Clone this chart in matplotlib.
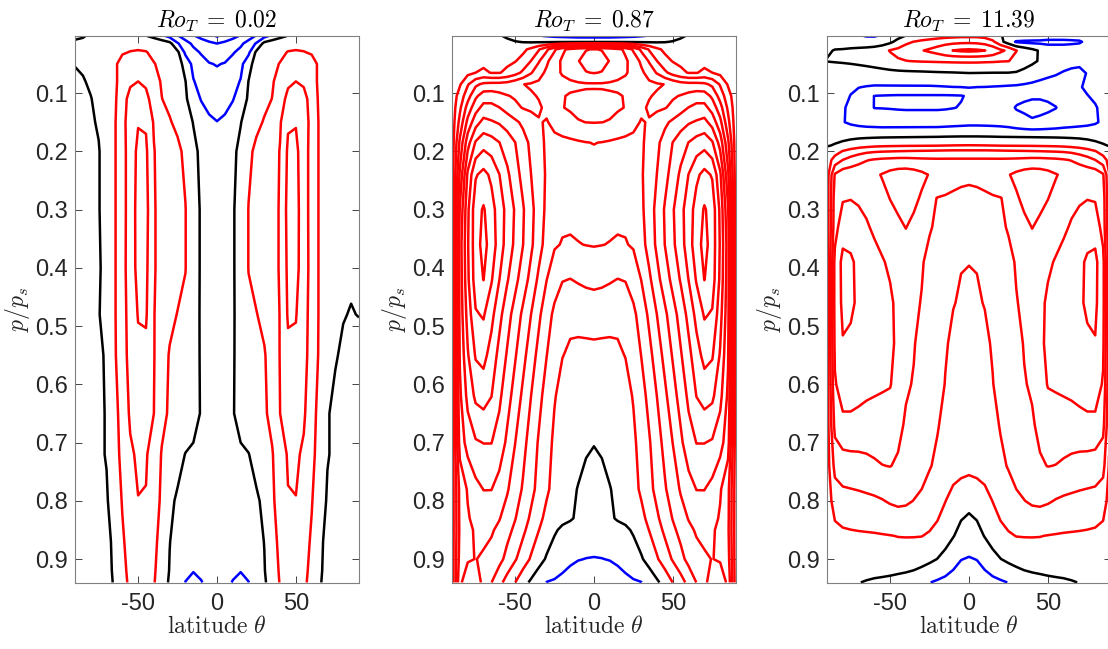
import numpy as np
import matplotlib.pyplot as plt

plt.rcParams['font.family'] = ['Liberation Sans', 'DejaVu Sans']
plt.rcParams['mathtext.fontset'] = 'cm'
plt.rcParams['axes.unicode_minus'] = False

# latitude grid for one hemisphere (|lat|, equator to pole); fields are mirrored
lat_half = [0, 5, 10, 15, 20, 25, 30, 35, 40, 45, 50, 55, 60, 65, 70, 75, 80, 85, 90]

titles = [r'$Ro_T\;=\;0.02$', r'$Ro_T\;=\;0.87$', r'$Ro_T\;=\;11.39$']
ytick_vals = [0.1, 0.2, 0.3, 0.4, 0.5, 0.6, 0.7, 0.8, 0.9]
xtick_vals = [-50, 0, 50]

# ---- panel 1, Ro_T = 0.02 ----
p1_p = [0.002, 0.015, 0.03, 0.05, 0.08, 0.11, 0.15, 0.2, 0.3, 0.4, 0.48, 0.55,
        0.65, 0.72, 0.8, 0.87, 0.92, 0.94]
p1_south = [
    [-4.1, -3.6, -3.3, -2.9, -2.5, -1.9, -1.3, -0.75, -0.3, 0.05, 0.3, 0.4, 0.4, 0.35, 0.25, 0.15, 0.1, -0.05, -0.1],
    [-3.0, -2.8, -2.5, -2.2, -1.6, -0.9, 0.3, 0.6, 0.8, 0.85, 0.85, 0.85, 0.8, 0.7, 0.5, 0.35, 0.25, 0.15, 0.1],
    [-2.6, -2.4, -2.1, -1.7, -1.2, 0.2, 0.6, 0.8, 0.9, 1.02, 1.05, 1.02, 0.95, 0.8, 0.6, 0.4, 0.3, 0.2, 0.12],
    [-2.05, -1.95, -1.6, -1.25, -0.4, 0.5, 0.85, 0.9, 1.02, 1.5, 1.6, 1.5, 1.2, 0.9, 0.6, 0.35, 0.2, 0.08, 0.02],
    [-1.7, -1.6, -1.3, -0.95, 0.02, 0.6, 0.85, 0.95, 1.2, 1.8, 2.0, 1.8, 1.3, 0.85, 0.5, 0.25, 0.08, -0.04, -0.1],
    [-1.45, -1.3, -1.05, -0.6, 0.15, 0.7, 0.85, 1.01, 1.5, 2.3, 2.6, 2.4, 1.5, 0.85, 0.4, 0.15, -0.02, -0.15, -0.25],
    [-0.98, -0.85, -0.55, -0.05, 0.6, 0.85, 1.05, 1.3, 1.9, 2.9, 2.95, 2.6, 1.6, 0.9, 0.45, 0.08, -0.1, -0.2, -0.3],
    [-0.75, -0.55, -0.25, 0.3, 0.85, 1.15, 1.35, 1.55, 2.05, 3.15, 3.2, 2.5, 1.6, 0.9, 0.4, -0.05, -0.2, -0.3, -0.4],
    [-0.6, -0.4, -0.1, 0.4, 1.02, 1.2, 1.4, 1.6, 2.1, 3.3, 3.3, 2.5, 1.6, 0.9, 0.4, -0.05, -0.2, -0.3, -0.4],
    [-0.6, -0.4, -0.1, 0.4, 1.02, 1.2, 1.4, 1.6, 2.1, 3.2, 3.25, 2.55, 1.6, 0.9, 0.3, -0.1, -0.2, -0.3, -0.4],
    [-0.55, -0.4, -0.1, 0.35, 0.85, 0.98, 1.15, 1.4, 2.05, 3.1, 3.05, 2.4, 1.6, 0.9, 0.35, -0.05, -0.2, -0.3, -0.4],
    [-0.5, -0.35, -0.08, 0.3, 0.6, 0.8, 0.95, 1.3, 2.05, 2.8, 2.8, 2.35, 1.55, 0.88, 0.1, -0.15, -0.25, -0.35, -0.45],
    [-0.45, -0.3, -0.05, 0.25, 0.5, 0.7, 0.9, 1.2, 2.0, 2.45, 2.45, 2.15, 1.3, 0.75, 0.05, -0.15, -0.3, -0.4, -0.5],
    [-0.4, -0.3, -0.2, -0.1, -0.02, 0.25, 0.6, 0.95, 1.5, 2.1, 2.15, 1.85, 1.2, 0.7, 0.05, -0.15, -0.3, -0.4, -0.5],
    [-0.5, -0.45, -0.35, -0.25, -0.2, -0.1, 0.15, 0.85, 1.4, 1.95, 1.98, 1.7, 1.05, 0.5, -0.1, -0.25, -0.35, -0.45, -0.55],
    [-0.6, -0.65, -0.7, -0.72, -0.6, -0.3, 0.02, 0.7, 1.2, 1.6, 1.6, 1.3, 0.9, 0.2, -0.25, -0.3, -0.4, -0.5, -0.6],
    [-0.7, -0.8, -0.92, -0.98, -0.8, -0.4, -0.05, 0.6, 1.1, 1.45, 1.45, 1.2, 0.8, 0.15, -0.3, -0.35, -0.45, -0.55, -0.65],
    [-0.75, -0.88, -1.02, -1.15, -1.02, -0.5, -0.15, 0.55, 1.05, 1.4, 1.4, 1.15, 0.75, 0.1, -0.35, -0.4, -0.5, -0.6, -0.7],
]
# northern edge (lat 75..90) differs from the south in the upper rows
p1_north_edge = [
    [0.2, 0.15, 0.12, 0.1],
    [0.35, 0.25, 0.15, 0.1],
    [0.4, 0.3, 0.2, 0.12],
    [0.35, 0.2, 0.1, 0.08],
    [0.25, 0.15, 0.12, 0.1],
    [0.15, 0.12, 0.1, 0.08],
    [0.15, 0.12, 0.1, 0.08],
    [0.15, 0.12, 0.1, 0.08],
    [0.15, 0.12, 0.1, 0.08],
    [0.15, 0.12, 0.1, 0.08],
    [0.1, 0.03, -0.03, 0.02],
    [0.05, -0.1, -0.2, -0.25],
]
p1_contours = [-4, -3, -2, -1, 0, 1, 2, 3]

# ---- panel 2, Ro_T = 0.87 ----
p2_p = [0.002, 0.012, 0.025, 0.045, 0.065, 0.085, 0.105, 0.125, 0.15, 0.185, 0.24,
        0.3, 0.36, 0.42, 0.48, 0.55, 0.62, 0.7, 0.78, 0.83, 0.85, 0.9, 0.94]
p2_half = [
    [-1.3, -1.3, -1.3, -1.25, -1.2, -1.15, -1.05, -0.95, -0.8, -0.6, -0.4, -0.15, 0.1, 0.3, 0.4, 0.45, 0.45, 0.45, 0.4],
    [-0.15, -0.15, -0.15, -0.15, -0.15, -0.15, -0.15, -0.12, -0.1, -0.05, 0.05, 0.2, 0.4, 0.5, 0.55, 0.55, 0.55, 0.5, 0.4],
    [6.05, 5.95, 5.7, 5.3, 4.8, 3.85, 2.8, 1.9, 1.2, 0.8, 0.6, 0.55, 0.55, 0.55, 0.6, 0.55, 0.55, 0.5, 0.4],
    [6.5, 6.4, 5.95, 5.5, 5.15, 4.6, 3.8, 2.9, 2.0, 1.3, 0.95, 0.8, 0.75, 0.7, 0.7, 0.6, 0.55, 0.5, 0.4],
    [6.05, 5.95, 5.7, 5.35, 5.1, 4.7, 4.2, 3.6, 2.9, 2.2, 1.6, 1.2, 0.95, 0.95, 1.2, 1.0, 0.75, 0.6, 0.4],
    [4.9, 4.9, 4.85, 4.8, 4.7, 4.5, 4.35, 4.2, 4.1, 3.98, 3.7, 3.4, 3.3, 3.3, 3.2, 2.8, 1.9, 0.9, 0.4],
    [5.15, 5.14, 5.12, 5.08, 4.95, 4.6, 4.3, 4.05, 3.9, 3.85, 3.9, 4.05, 4.3, 4.5, 4.5, 3.8, 2.6, 1.4, 0.4],
    [5.3, 5.28, 5.2, 5.1, 4.97, 4.6, 4.15, 3.9, 3.85, 3.95, 4.2, 4.6, 5.02, 5.3, 5.3, 4.6, 3.4, 1.8, 0.4],
    [5.03, 5.01, 4.95, 4.75, 4.5, 4.2, 3.95, 4.05, 4.4, 4.8, 5.2, 5.6, 5.9, 6.1, 6.3, 5.6, 4.3, 2.3, 0.4],
    [4.02, 3.98, 3.9, 3.82, 3.78, 3.8, 3.9, 4.2, 4.8, 5.4, 6.02, 6.5, 7.02, 7.4, 7.6, 7.1, 5.6, 3.2, 0.4],
    [3.7, 3.65, 3.55, 3.45, 3.45, 3.6, 3.9, 4.4, 5.02, 5.7, 6.4, 7.2, 8.02, 8.8, 9.3, 8.9, 7.2, 4.2, 0.4],
    [3.35, 3.33, 3.28, 3.2, 3.2, 3.35, 3.8, 4.5, 5.3, 6.1, 6.9, 7.7, 8.5, 9.4, 10.1, 9.6, 7.8, 5.1, 0.4],
    [3.05, 3.02, 2.97, 2.92, 2.95, 3.1, 3.6, 4.4, 5.2, 6.02, 6.8, 7.6, 8.5, 9.6, 10.3, 9.6, 7.9, 5.5, 0.4],
    [2.25, 2.2, 2.1, 1.98, 2.05, 2.4, 3.02, 3.8, 4.7, 5.5, 6.3, 7.1, 8.02, 9.1, 10.02, 9.5, 7.8, 5.4, 0.4],
    [1.4, 1.35, 1.25, 1.15, 1.3, 1.8, 2.4, 3.2, 4.02, 4.8, 5.6, 6.4, 7.3, 8.3, 9.1, 8.9, 7.4, 5.3, 0.4],
    [0.75, 0.75, 0.8, 0.9, 1.02, 1.4, 2.02, 2.7, 3.5, 4.3, 5.1, 5.9, 6.7, 7.6, 8.3, 8.1, 6.9, 5.1, 0.4],
    [0.45, 0.45, 0.5, 0.6, 0.75, 1.05, 1.6, 2.3, 3.02, 3.8, 4.6, 5.4, 6.2, 7.02, 7.4, 7.2, 6.3, 4.8, 0.4],
    [0.03, 0.1, 0.25, 0.45, 0.6, 0.85, 1.3, 1.9, 2.6, 3.3, 4.02, 4.8, 5.6, 6.02, 6.02, 5.9, 5.4, 4.4, 0.4],
    [-0.35, -0.2, -0.03, 0.15, 0.35, 0.7, 1.15, 1.7, 2.3, 2.9, 3.5, 4.1, 4.6, 5.02, 5.02, 4.7, 4.1, 3.3, 0.4],
    [-0.6, -0.5, -0.15, 0.1, 0.2, 0.35, 0.75, 1.25, 1.85, 2.45, 3.05, 3.6, 4.05, 4.4, 4.5, 4.3, 3.9, 3.25, 0.4],
    [-0.75, -0.7, -0.55, -0.35, -0.15, 0.1, 0.5, 1.02, 1.6, 2.2, 2.8, 3.3, 3.8, 4.1, 4.2, 4.1, 3.8, 3.2, 0.4],
    [-1.02, -1.01, -0.98, -0.9, -0.7, -0.4, -0.1, 0.35, 0.9, 1.5, 2.1, 2.7, 3.3, 3.7, 3.9, 4.02, 3.9, 3.4, 0.4],
    [-1.35, -1.35, -1.3, -1.25, -1.2, -1.1, -1.02, -0.6, -0.15, 0.35, 1.02, 1.6, 2.3, 3.02, 3.8, 4.4, 4.6, 3.8, 0.4],
]
p2_contours = [-1, 0, 1, 2, 3, 4, 5, 6, 7, 8, 9, 10]

# ---- panel 3, Ro_T = 11.39 ----
p3_p_top = [0.002, 0.012, 0.027, 0.045, 0.066, 0.09, 0.105, 0.125, 0.15]
p3_top_south = [
    [0.8, 0.8, 0.75, 0.7, 0.6, 0.5, 0.4, 0.2, 0.05, -0.3, -0.6, -0.9, -1.05, -1.05, -0.9, -0.6, -0.5, -0.4, -0.35],
    [1.8, 1.78, 1.72, 1.62, 1.5, 1.35, 1.2, 1.02, 0.8, 0.3, -0.2, -0.5, -0.6, -0.55, -0.45, -0.35, -0.25, -0.15, -0.1],
    [3.2, 3.15, 3.02, 2.75, 2.4, 2.15, 1.95, 1.7, 1.45, 1.25, 1.05, 0.7, 0.45, 0.3, 0.2, 0.12, 0.05, 0.02, -0.05],
    [1.15, 1.15, 1.14, 1.12, 1.1, 1.08, 1.06, 1.03, 0.98, 0.9, 0.7, 0.5, 0.35, 0.25, 0.18, 0.12, 0.08, 0.05, 0.02],
    [-0.02, -0.05, -0.08, -0.1, -0.12, -0.15, -0.18, -0.2, -0.22, -0.25, -0.27, -0.3, -0.32, -0.35, -0.38, -0.4, -0.42, -0.43, -0.45],
    [-0.95, -1.01, -1.02, -1.05, -1.08, -1.1, -1.1, -1.1, -1.1, -1.1, -1.1, -1.1, -1.1, -1.05, -0.98, -0.9, -0.75, -0.6, -0.5],
    [-1.9, -2.05, -2.08, -2.1, -2.1, -2.1, -2.1, -2.1, -2.1, -2.1, -2.08, -2.05, -2.02, -1.6, -1.25, -1.02, -0.8, -0.65, -0.55],
    [-1.85, -1.95, -2.03, -2.08, -2.1, -2.1, -2.1, -2.1, -2.1, -2.08, -2.05, -2.03, -2.02, -1.7, -1.3, -1.1, -0.95, -0.75, -0.6],
    [-1.3, -1.35, -1.4, -1.45, -1.5, -1.5, -1.5, -1.5, -1.5, -1.5, -1.5, -1.5, -1.45, -1.4, -1.3, -1.15, -0.95, -0.7, -0.5],
]
p3_top_north = [
    [0.8, 0.8, 0.7, 0.4, 0.05, -0.2, -0.2, -0.1, -0.1, -0.2, -0.5, -0.6, -0.6, -0.6, -0.6, -0.5, -0.4, -0.35, -0.3],
    [1.8, 1.75, 1.6, 1.2, 0.3, -0.5, -1.1, -1.2, -1.25, -1.25, -1.25, -1.2, -1.2, -1.15, -1.1, -0.8, -0.5, -0.3, -0.2],
    [3.2, 3.15, 3.02, 2.7, 2.2, 1.8, 1.02, 0.6, 0.25, -0.1, -0.5, -0.6, -0.6, -0.6, -0.55, -0.5, -0.45, -0.4, -0.35],
    [1.15, 1.15, 1.12, 1.1, 1.05, 1.02, 0.8, 0.5, 0.2, -0.1, -0.4, -0.6, -0.75, -0.85, -0.9, -0.9, -0.85, -0.8, -0.75],
    [-0.02, -0.03, -0.04, -0.05, -0.05, -0.05, -0.1, -0.3, -0.5, -0.7, -0.85, -0.95, -1.05, -1.1, -1.1, -0.98, -0.9, -0.8, -0.7],
    [-0.95, -1.01, -1.02, -1.05, -1.08, -1.12, -1.15, -1.2, -1.25, -1.3, -1.32, -1.3, -1.25, -1.15, -1.05, -0.9, -0.75, -0.6, -0.5],
    [-1.9, -1.6, -1.5, -1.5, -1.5, -1.6, -1.8, -1.9, -1.95, -1.95, -1.9, -1.8, -1.6, -1.45, -1.3, -1.02, -0.9, -0.75, -0.6],
    [-1.85, -1.6, -1.5, -1.5, -1.55, -1.8, -2.05, -2.1, -2.12, -2.12, -2.1, -2.02, -1.8, -1.6, -1.4, -1.2, -1.05, -0.85, -0.6],
    [-1.3, -1.3, -1.32, -1.35, -1.4, -1.5, -1.7, -1.85, -1.95, -1.9, -1.8, -1.7, -1.55, -1.45, -1.35, -1.25, -1.1, -0.85, -0.5],
]
p3_p_low = [0.175, 0.19, 0.2, 0.215, 0.24, 0.28, 0.33, 0.39, 0.46, 0.53, 0.6, 0.67,
            0.74, 0.8, 0.86, 0.9, 0.94]
p3_low = [
    [0.03, 0.03, 0.02, 0.01, -0.01, -0.02, -0.03, -0.04, -0.05, -0.06, -0.07, -0.08, -0.1, -0.12, -0.15, -0.2, -0.3, -0.4, -0.5],
    [1.03, 1.02, 1.01, 0.99, 0.96, 0.95, 0.94, 0.93, 0.92, 0.9, 0.88, 0.85, 0.8, 0.7, 0.6, 0.45, 0.3, 0.1, -0.1],
    [2.2, 2.2, 2.2, 2.18, 2.15, 2.12, 2.1, 2.08, 2.05, 2.02, 1.98, 1.95, 1.9, 1.8, 1.6, 1.35, 1.05, 0.6, 0.5],
    [3.15, 3.15, 3.15, 3.15, 3.15, 3.17, 3.2, 3.25, 3.3, 3.3, 3.25, 3.2, 3.1, 2.95, 2.7, 2.4, 2.02, 1.4, 0.5],
    [3.2, 3.25, 3.35, 3.55, 3.8, 3.95, 4.2, 4.4, 4.5, 4.45, 4.3, 4.05, 3.85, 3.75, 3.7, 3.65, 3.6, 3.1, 0.5],
    [2.75, 2.78, 2.85, 2.92, 2.98, 3.15, 3.9, 4.2, 4.3, 4.2, 4.02, 3.8, 3.7, 3.75, 3.85, 3.95, 3.9, 3.5, 0.5],
    [2.5, 2.52, 2.58, 2.65, 2.8, 3.1, 3.5, 3.8, 4.02, 3.85, 3.7, 3.75, 3.85, 4.1, 4.4, 4.7, 4.6, 3.6, 0.5],
    [2.01, 2.02, 2.08, 2.2, 2.4, 2.7, 3.1, 3.4, 3.6, 3.75, 3.9, 4.05, 4.3, 4.6, 4.85, 5.1, 5.25, 4.3, 0.5],
    [1.9, 1.95, 2.02, 2.2, 2.45, 2.7, 2.95, 3.2, 3.55, 3.85, 4.1, 4.3, 4.5, 4.7, 4.9, 5.1, 5.2, 4.3, 0.5],
    [1.75, 1.8, 1.9, 2.05, 2.25, 2.5, 2.75, 3.05, 3.5, 3.9, 4.1, 4.3, 4.5, 4.65, 4.8, 4.9, 4.95, 4.2, 0.5],
    [1.6, 1.65, 1.78, 1.98, 2.2, 2.45, 2.7, 2.95, 3.1, 3.6, 4.05, 4.1, 4.15, 4.2, 4.3, 4.4, 4.5, 3.9, 0.5],
    [1.45, 1.5, 1.6, 1.8, 2.05, 2.3, 2.5, 2.7, 2.9, 3.2, 3.5, 3.6, 3.65, 3.7, 3.75, 3.8, 3.75, 3.3, 0.5],
    [1.25, 1.3, 1.42, 1.6, 1.85, 2.05, 2.3, 2.55, 2.75, 2.9, 3.02, 2.98, 2.85, 2.7, 2.6, 2.55, 2.5, 2.3, 0.5],
    [0.3, 0.45, 0.65, 1.02, 1.4, 1.65, 1.85, 1.98, 2.15, 2.2, 2.1, 1.95, 1.85, 1.8, 1.75, 1.7, 1.65, 1.4, 0.5],
    [-0.55, -0.35, 0.05, 0.4, 0.7, 0.9, 1.02, 1.03, 1.03, 1.02, 0.98, 0.95, 0.92, 0.9, 0.88, 0.85, 0.8, 0.7, 0.4],
    [-1.05, -0.98, -0.7, -0.3, -0.02, 0.2, 0.4, 0.55, 0.6, 0.62, 0.62, 0.6, 0.55, 0.5, 0.45, 0.4, 0.35, 0.3, 0.3],
    [-1.5, -1.45, -1.35, -1.25, -1.12, -0.98, -0.8, -0.6, -0.45, -0.35, -0.25, -0.18, -0.12, -0.05, 0.02, 0.1, 0.2, 0.3, 0.3],
]
p3_contours = [-2, -1, 0, 1, 2, 3, 4, 5]


lat_full = np.concatenate([-np.array(lat_half[::-1]), np.array(lat_half[1:])])


def mirror(south, north):
    s = np.array(south, dtype=float)
    n = np.array(north, dtype=float)
    return np.hstack([s[:, ::-1], n[:, 1:]])


# assemble the fields
psi1_s = np.array(p1_south, dtype=float)
psi1_n = psi1_s.copy()
psi1_n[:len(p1_north_edge), 15:] = np.array(p1_north_edge)
psi1 = mirror(psi1_s, psi1_n)

psi2 = mirror(p2_half, p2_half)

p3_p = p3_p_top + p3_p_low
psi3 = mirror(p3_top_south + p3_low, p3_top_north + p3_low)

panels = [(p1_p, psi1, p1_contours),
          (p2_p, psi2, p2_contours),
          (p3_p, psi3, p3_contours)]

fig = plt.figure(figsize=(11.08, 6.49), dpi=100)
lefts = [0.0677, 0.4079, 0.7464]
w, h, b = 0.2563, 0.8428, 0.1017

for i, (pp, psi, lev) in enumerate(panels):
    ax = fig.add_axes([lefts[i], b, w, h])
    cols = ['#0000ff' if v < 0 else ('k' if v == 0 else '#ff0000') for v in lev]
    ax.contour(lat_full, pp, psi, levels=lev, colors=cols, linewidths=1.8,
               linestyles='solid')
    ax.set_xlim(-90, 90)
    ax.set_ylim(0.941, 0.0021)
    ax.set_xticks(xtick_vals)
    ax.set_yticks(ytick_vals)
    ax.set_yticklabels(['%.1f' % v for v in ytick_vals])
    ax.tick_params(direction='in', length=5, width=0.6, colors='#262626',
                   labelsize=17, top=True, right=True)
    ax.tick_params(axis='y', pad=5)
    ax.tick_params(axis='x', pad=7)
    for s in ax.spines.values():
        s.set_color('#808080')
        s.set_linewidth(0.8)
    ax.set_title(titles[i], fontsize=17, pad=6)
    ax.set_xlabel(r'$\mathrm{latitude}\ \theta$', fontsize=17, color='#262626', labelpad=1)
    ax.set_ylabel(r'$p/p_s$', fontsize=17, color='#262626')
    ax.yaxis.set_label_coords(-0.15, 0.5)

fig.savefig('out.png', dpi=100)
